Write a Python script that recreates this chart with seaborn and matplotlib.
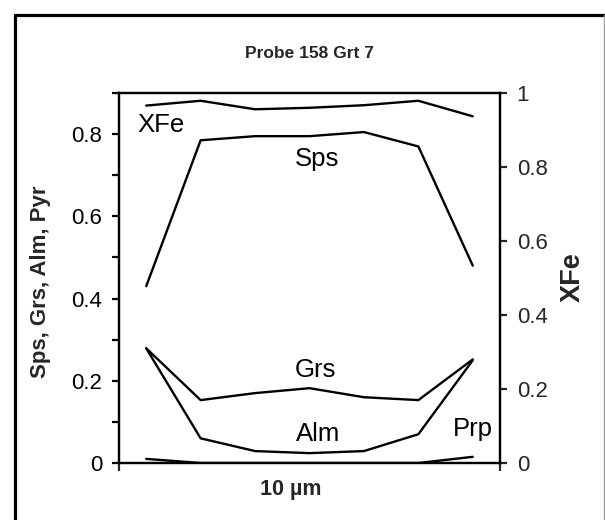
import matplotlib
matplotlib.use("Agg")
import matplotlib.pyplot as plt
import seaborn as sns
import pandas as pd
import numpy as np

# ---- data ----
positions = [1, 2, 3, 4, 5, 6, 7]
sps = [0.43, 0.785, 0.795, 0.795, 0.805, 0.77, 0.48]
grs = [0.279, 0.153, 0.170, 0.182, 0.160, 0.153, 0.252]
alm = [0.279, 0.060, 0.029, 0.024, 0.029, 0.070, 0.250]
prp = [0.010, 0.0, 0.0, 0.0, 0.0, 0.0, 0.015]
xfe = [0.966, 0.979, 0.956, 0.960, 0.967, 0.979, 0.937]

title = "Probe 158 Grt 7"
xlabel = "10 µm"
ylabel_left = "Sps, Grs, Alm, Pyr"
ylabel_right = "XFe"
left_ticks = [0, 0.2, 0.4, 0.6, 0.8]
left_ticklabels = ["0", "0.2", "0.4", "0.6", "0.8"]
right_ticks = [0, 0.2, 0.4, 0.6, 0.8, 1.0]
right_ticklabels = ["0", "0.2", "0.4", "0.6", "0.8", "1"]

sns.set_style("white")
plt.rcParams['font.family'] = ['Liberation Sans', 'DejaVu Sans']

W, H, DPI = 605, 520, 100
fig = plt.figure(figsize=(W / DPI, H / DPI), dpi=DPI)

def fx(px):
    return px / W

def fy(py):
    return 1 - py / H

L, R, T, B = 119, 500, 93, 463
ax = fig.add_axes([fx(L), fy(B), fx(R) - fx(L), fy(T) - fy(B)])

df = pd.DataFrame({
    "pos": positions * 4,
    "value": sps + grs + alm + prp,
    "series": ["Sps"] * 7 + ["Grs"] * 7 + ["Alm"] * 7 + ["Prp"] * 7,
})
sns.lineplot(data=df, x="pos", y="value", units="series", estimator=None,
             color="black", lw=1.7, ax=ax, legend=False)
ax.set_xlim(0.5, 7.5)
ax.set_ylim(0, 0.9)

ax2 = ax.twinx()
df2 = pd.DataFrame({"pos": positions, "xfe": xfe})
sns.lineplot(data=df2, x="pos", y="xfe", color="black", lw=1.7, ax=ax2, legend=False)
ax2.set_ylim(0, 1.0)
ax2.set_xlim(0.5, 7.5)

for a in (ax, ax2):
    for s in a.spines.values():
        s.set_visible(True)
        s.set_color("black")
        s.set_linewidth(1.6)
    a.set_xlabel("")
    a.set_ylabel("")

ax.set_yticks(left_ticks)
ax.set_yticklabels(left_ticklabels)
ax.set_yticks([0.1, 0.3, 0.5, 0.7, 0.9], minor=True)
ax.tick_params(axis="y", which="both", direction="out", length=5, width=1.6,
               labelsize=16, pad=7, left=True, right=False, colors="black")
ax.set_xticks([0.5, 7.5])
ax.set_xticklabels([])
ax.tick_params(axis="x", direction="out", length=6, width=1.6, bottom=True)

ax2.set_yticks(right_ticks)
ax2.set_yticklabels(right_ticklabels)
ax2.tick_params(axis="y", which="both", direction="out", length=5, width=1.6,
                labelsize=16, pad=7, right=True, left=False)
ax2.tick_params(axis="x", bottom=False, labelbottom=False)

# series labels
lab_kw = dict(fontsize=18.5, ha="center", va="center", color="black")
ax.text(1.27, 0.822, "XFe", **lab_kw)
ax.text(4.13, 0.740, "Sps", **lab_kw)
ax.text(4.11, 0.226, "Grs", **lab_kw)
ax.text(4.15, 0.071, "Alm", **lab_kw)
ax.text(7.00, 0.083, "Prp", **lab_kw)

# titles / axis labels
fig.text(fx(309), fy(53), title, fontsize=12.5, fontweight="bold", ha="center", va="center")
fig.text(fx(291), fy(490), xlabel, fontsize=15.5, fontweight="bold", ha="center", va="center")
fig.text(fx(41), fy(282), ylabel_left, fontsize=16, fontweight="bold", ha="center",
         va="center", rotation=90)
fig.text(fx(573), fy(277), ylabel_right, fontsize=19.5, fontweight="bold", ha="center",
         va="center", rotation=90)

# chart border (Excel-style)
fig.add_artist(plt.Line2D([fx(14.5), fx(14.5)], [fy(14.5), 0], transform=fig.transFigure,
                          color="black", lw=2.3))
fig.add_artist(plt.Line2D([fx(14.5), 1], [fy(14.5), fy(14.5)], transform=fig.transFigure,
                          color="black", lw=2.3))
fig.add_artist(plt.Line2D([fx(604), fx(604)], [fy(14.5), 0], transform=fig.transFigure,
                          color="#a0a0a0", lw=1.0))

fig.savefig("out.png", dpi=DPI)
